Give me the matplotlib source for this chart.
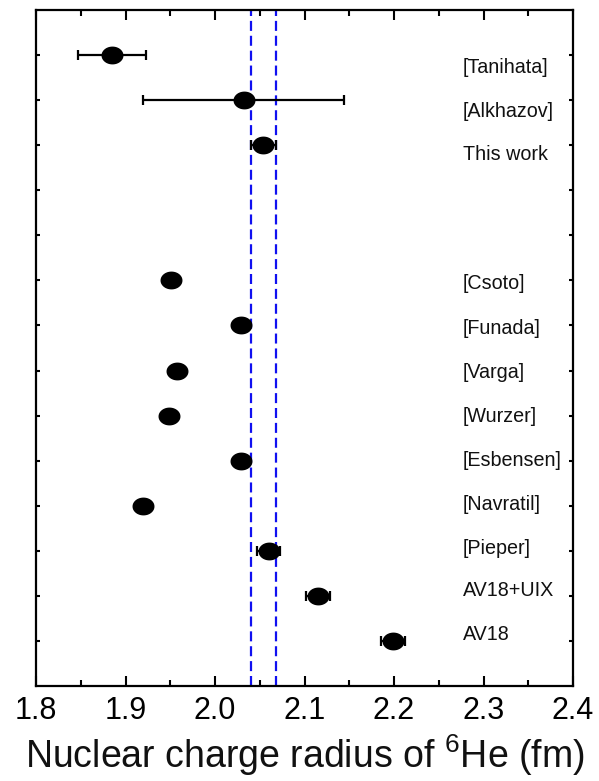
import numpy as np
import matplotlib
matplotlib.use("Agg")
import matplotlib.pyplot as plt
from matplotlib.path import Path
from matplotlib.ticker import MultipleLocator

plt.rcParams['font.family'] = ['Liberation Sans', 'DejaVu Sans']
plt.rcParams['mathtext.fontset'] = 'custom'
plt.rcParams['mathtext.rm'] = 'Liberation Sans'

# Nuclear charge radius of 6He (fm), top to bottom
labels = ["[Tanihata]", "[Alkhazov]", "This work",
          "[Csoto]", "[Funada]", "[Varga]", "[Wurzer]", "[Esbensen]",
          "[Navratil]", "[Pieper]", "AV18+UIX", "AV18"]
rows = [14, 13, 12, 9, 8, 7, 6, 5, 4, 3, 2, 1]
label_rows = [13.60, 12.63, 11.68, 8.81, 7.81, 6.83, 5.86, 4.88,
              3.90, 2.93, 2.00, 1.02]
radius = [1.885, 2.032, 2.054, 1.951, 2.029, 1.958, 1.949, 2.029,
          1.920, 2.060, 2.115, 2.199]
error = [0.038, 0.112, 0.014, 0.006, 0.0, 0.0, 0.0, 0.0,
         0.0, 0.013, 0.013, 0.013]

# band of the present measurement
band = [2.040, 2.068]

# elliptical marker
t = np.linspace(0, 2 * np.pi, 60)
ellipse = Path(np.column_stack([np.cos(t), 0.8 * np.sin(t)]), closed=True)

fig = plt.figure(figsize=(5.99, 7.81), dpi=100)
ax = fig.add_axes([0.0601, 0.1216, 0.8965, 0.8656])

for xb in band:
    ax.axvline(xb, color='#1010f0', lw=1.6, ls=(0, (4.5, 2.2)), zorder=1)

ax.errorbar(radius, rows, xerr=error, fmt='none', ecolor='black',
            elinewidth=1.6, capsize=3.6, capthick=1.6, zorder=2)
ax.plot(radius, rows, ls='none', marker=ellipse, markersize=14.8,
        color='black', zorder=3)

for lab, r in zip(labels, label_rows):
    ax.text(2.277, r, lab, fontsize=14.2, ha='left', va='baseline',
            color='#111111')

ax.set_xlim(1.8, 2.4)
ax.set_ylim(0, 15)
ticks = np.round(np.arange(1.8, 2.41, 0.1), 1)
ax.set_xticks(ticks)
ax.set_xticklabels([f"{v:.1f}" for v in ticks])
ax.xaxis.set_minor_locator(MultipleLocator(0.05))
ax.set_yticks(np.arange(1, 15))
ax.set_yticklabels([])
ax.tick_params(axis='x', which='major', direction='in', length=7.5, width=1.5,
               top=True, labelsize=22, pad=7)
ax.tick_params(axis='x', which='minor', direction='in', length=4, width=1.5,
               top=True)
ax.tick_params(axis='y', which='major', direction='in', length=3, width=1.5,
               right=True)
for s in ax.spines.values():
    s.set_linewidth(1.6)

ax.set_xlabel("Nuclear charge radius of $\\mathregular{^{6}}$He (fm)",
              fontsize=27, labelpad=5, color='#111111')

fig.savefig("out.png", dpi=100)
